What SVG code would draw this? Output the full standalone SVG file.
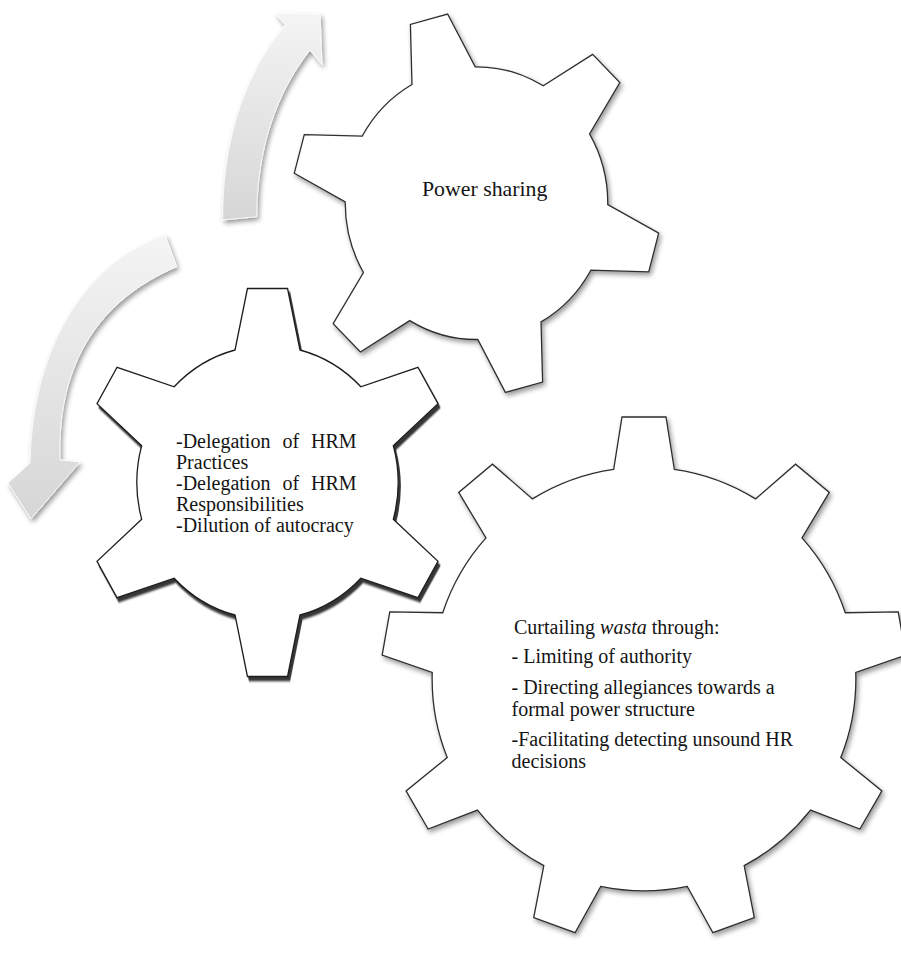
<svg xmlns="http://www.w3.org/2000/svg" width="901" height="956" viewBox="0 0 901 956">
  <defs>
    <style>
      .gear { fill: #ffffff; stroke: #2e2e2e; stroke-width: 1.3; stroke-linejoin: miter; }
      .txt { font-family: "Liberation Serif", "Times New Roman", serif; font-size: 20px; fill: #141414; }
      .arrow { fill: url(#arrowGrad); stroke: #ffffff; stroke-width: 0.8; }
    </style>
    <linearGradient id="arrowGrad" x1="0" y1="0" x2="0" y2="1">
      <stop offset="0" stop-color="#f4f4f4"/>
      <stop offset="1" stop-color="#d6d6d6"/>
    </linearGradient>
    <filter id="softShadow" x="-15%" y="-15%" width="135%" height="135%">
      <feGaussianBlur in="SourceAlpha" stdDeviation="2.5"/>
      <feOffset dx="2" dy="3" result="b"/>
      <feComponentTransfer in="b" result="s">
        <feFuncA type="linear" slope="0.4"/>
      </feComponentTransfer>
      <feMerge>
        <feMergeNode in="s"/>
        <feMergeNode in="SourceGraphic"/>
      </feMerge>
    </filter>
    <filter id="hardShadow" x="-10%" y="-10%" width="125%" height="125%">
      <feOffset in="SourceAlpha" dx="2" dy="3.5" result="o"/>
      <feGaussianBlur in="o" stdDeviation="0.8" result="b"/>
      <feFlood flood-color="#2a2a2a" flood-opacity="0.95"/>
      <feComposite in2="b" operator="in" result="s"/>
      <feMerge>
        <feMergeNode in="s"/>
        <feMergeNode in="SourceGraphic"/>
      </feMerge>
    </filter>
  </defs>

  <rect width="901" height="956" fill="#ffffff"/>

  <g id="connectors">
    <path id="arrow-up" class="arrow" filter="url(#softShadow)" d="M 222.7,220 C 222,150 240,80 285,25 L 275,13 L 320,14 L 322,65 L 310,50 C 275,95 257,150 256.7,216.7 Z"/>
    <path id="arrow-down" class="arrow" filter="url(#softShadow)" d="M 165,235 C 95,258 33,335 30,463 L 8,483 L 31,519 L 80,462 L 60,460 C 57,372 92,303 176.7,266.7 Z"/>
  </g>

  <g id="gear-power-sharing">
    <path class="gear" filter="url(#softShadow)" transform="translate(476.5 203.2) scale(0.963 1)" vector-effect="non-scaling-stroke" d="M -67.00,-118.70 L -68.63,-178.83 L -29.99,-189.19 L -1.32,-136.30 A 136.3 136.3 0 0 1 69.30,-117.38 L 120.56,-148.84 L 148.84,-120.56 L 117.38,-69.30 A 136.3 136.3 0 0 1 136.30,1.32 L 189.19,29.99 L 178.83,68.63 L 118.70,67.00 A 136.3 136.3 0 0 1 67.00,118.70 L 68.63,178.83 L 29.99,189.19 L 1.32,136.30 A 136.3 136.3 0 0 1 -69.30,117.38 L -120.56,148.84 L -148.84,120.56 L -117.38,69.30 A 136.3 136.3 0 0 1 -136.30,-1.32 L -189.19,-29.99 L -178.83,-68.63 L -118.70,-67.00 A 136.3 136.3 0 0 1 -67.00,-118.70 Z"/>
    <text class="txt" x="422" y="196" style="font-size:21.8px">Power sharing</text>
  </g>

  <g id="gear-wasta">
    <path class="gear" filter="url(#softShadow)" transform="translate(644 679)" d="M -30.3,-209.7 L -22,-262 L 22,-262 L 30.3,-209.7 A 211.9 211.9 0 0 1 111.58,-180.12 L 151.56,-214.84 L 185.26,-186.56 L 158.00,-141.16 A 211.9 211.9 0 0 1 201.25,-66.25 L 254.20,-67.17 L 261.84,-23.83 L 211.77,-6.57 A 211.9 211.9 0 0 1 196.76,78.61 L 237.90,111.95 L 215.90,150.05 L 166.46,131.09 A 211.9 211.9 0 0 1 100.19,186.69 L 110.28,238.68 L 68.94,253.72 L 43.25,207.41 A 211.9 211.9 0 0 1 -43.25,207.41 L -68.94,253.72 L -110.28,238.68 L -100.19,186.69 A 211.9 211.9 0 0 1 -166.46,131.09 L -215.90,150.05 L -237.90,111.95 L -196.76,78.61 A 211.9 211.9 0 0 1 -211.77,-6.57 L -261.84,-23.83 L -254.20,-67.17 L -201.25,-66.25 A 211.9 211.9 0 0 1 -158.00,-141.16 L -185.26,-186.56 L -151.56,-214.84 L -111.58,-180.12 A 211.9 211.9 0 0 1 -30.3,-209.7 Z"/>
    <text class="txt" x="514" y="634">Curtailing <tspan font-style="italic">wasta</tspan> through:</text>
    <text class="txt" x="511.5" y="663">- Limiting of authority</text>
    <text class="txt" x="511.5" y="694">- Directing allegiances towards a</text>
    <text class="txt" x="511.5" y="716">formal power structure</text>
    <text class="txt" x="511.5" y="746">-Facilitating detecting unsound HR</text>
    <text class="txt" x="511.5" y="768">decisions</text>
  </g>

  <g id="gear-delegation">
    <path class="gear" filter="url(#hardShadow)" style="stroke:#1e1e1e" transform="translate(267.5 482.5) scale(0.955 1)" vector-effect="non-scaling-stroke" d="M -34,-132.5 L -21,-194 L 21,-194 L 34,-132.5 A 136.8 136.8 0 0 1 97.75,-95.69 L 157.51,-115.19 L 178.51,-78.81 L 131.75,-36.81 A 136.8 136.8 0 0 1 131.75,36.81 L 178.51,78.81 L 157.51,115.19 L 97.75,95.69 A 136.8 136.8 0 0 1 34,132.5 L 21,194 L -21,194 L -34,132.5 A 136.8 136.8 0 0 1 -97.75,95.69 L -157.51,115.19 L -178.51,78.81 L -131.75,36.81 A 136.8 136.8 0 0 1 -131.75,-36.81 L -178.51,-78.81 L -157.51,-115.19 L -97.75,-95.69 A 136.8 136.8 0 0 1 -34,-132.5 Z"/>
    <text class="txt" x="176" y="448" word-spacing="7">-Delegation of HRM</text>
    <text class="txt" x="176" y="469">Practices</text>
    <text class="txt" x="176" y="490" word-spacing="7">-Delegation of HRM</text>
    <text class="txt" x="176" y="511">Responsibilities</text>
    <text class="txt" x="176" y="532">-Dilution of autocracy</text>
  </g>
</svg>
